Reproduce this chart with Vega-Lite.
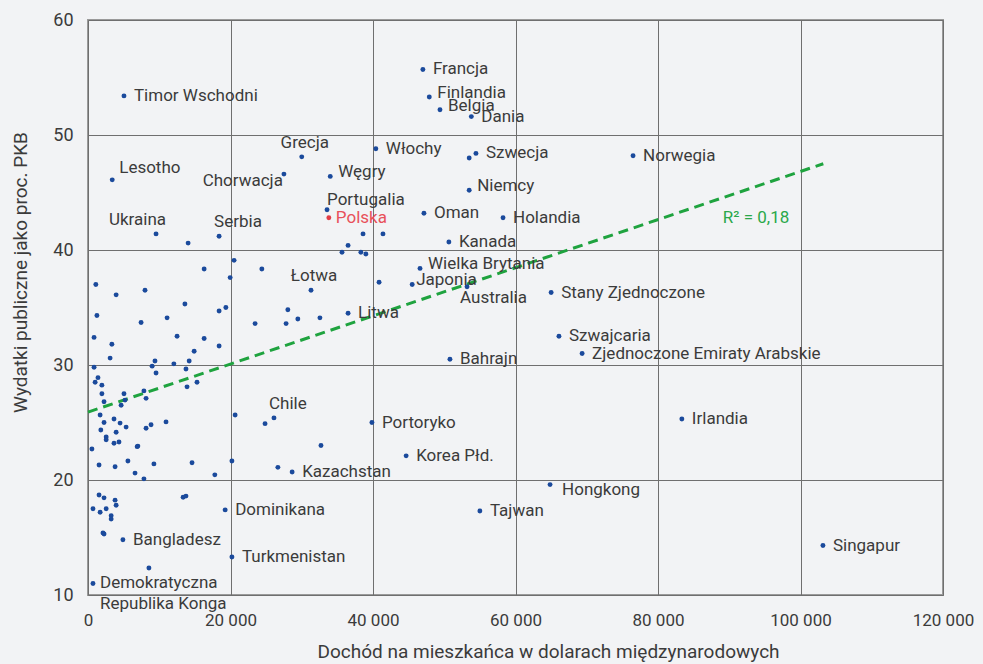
{
  "$schema": "https://vega.github.io/schema/vega-lite/v6.json",
  "width": 855,
  "height": 575,
  "autosize": {"type": "none"},
  "padding": {"left": 88, "top": 20, "right": 40, "bottom": 69},
  "background": "#f2f3f5",
  "config": {
    "locale": {"number": {"decimal": ",", "thousands": " ", "grouping": [3], "currency": ["", ""]}},
    "font": "Roboto",
    "view": {"stroke": "#9a9a9a", "strokeWidth": 2},
    "text": {"lineBreak": "\n"}
  },
  "datasets": {
    "countries": [
      {"name": "Francja", "income": 47000, "spending": 55.7},
      {"name": "Finlandia", "income": 47900, "spending": 53.3},
      {"name": "Belgia", "income": 49400, "spending": 52.2},
      {"name": "Dania", "income": 53800, "spending": 51.6},
      {"name": "Timor Wschodni", "income": 5050, "spending": 53.4},
      {"name": "Lesotho", "income": 3400, "spending": 46.1},
      {"name": "Ukraina", "income": 9550, "spending": 41.4},
      {"name": "Serbia", "income": 18400, "spending": 41.2},
      {"name": "Chorwacja", "income": 27500, "spending": 46.6},
      {"name": "Grecja", "income": 30000, "spending": 48.1},
      {"name": "Węgry", "income": 34000, "spending": 46.4},
      {"name": "Portugalia", "income": 33550, "spending": 43.5},
      {"name": "Polska", "income": 33800, "spending": 42.8},
      {"name": "Włochy", "income": 40400, "spending": 48.8},
      {"name": "Szwecja", "income": 54450, "spending": 48.4},
      {"name": "Niemcy", "income": 53500, "spending": 45.2},
      {"name": "Oman", "income": 47150, "spending": 43.2},
      {"name": "Holandia", "income": 58250, "spending": 42.8},
      {"name": "Kanada", "income": 50650, "spending": 40.7},
      {"name": "Norwegia", "income": 76500, "spending": 48.2},
      {"name": "Wielka Brytania", "income": 46600, "spending": 38.4},
      {"name": "Japonia", "income": 45500, "spending": 37.0},
      {"name": "Australia", "income": 53200, "spending": 36.8},
      {"name": "Litwa", "income": 36500, "spending": 34.5},
      {"name": "Bahrajn", "income": 50800, "spending": 30.5},
      {"name": "Portoryko", "income": 39850, "spending": 25.0},
      {"name": "Korea Płd.", "income": 44650, "spending": 22.1},
      {"name": "Łotwa", "income": 31300, "spending": 36.5},
      {"name": "Stany Zjednoczone", "income": 65000, "spending": 36.3},
      {"name": "Szwajcaria", "income": 66100, "spending": 32.5},
      {"name": "Zjednoczone Emiraty Arabskie", "income": 69350, "spending": 31.0},
      {"name": "Irlandia", "income": 83350, "spending": 25.3},
      {"name": "Hongkong", "income": 64850, "spending": 19.6},
      {"name": "Tajwan", "income": 55000, "spending": 17.3},
      {"name": "Singapur", "income": 103150, "spending": 14.3},
      {"name": "Chile", "income": 26100, "spending": 25.4},
      {"name": "Kazachstan", "income": 28650, "spending": 20.7},
      {"name": "Dominikana", "income": 19250, "spending": 17.4},
      {"name": "Turkmenistan", "income": 20200, "spending": 13.3},
      {"name": "Bangladesz", "income": 4900, "spending": 14.8},
      {"name": "Demokratyczna\nRepublika Konga", "income": 700, "spending": 11.0},
      {"income": 53500, "spending": 48.0},
      {"income": 14050, "spending": 40.6},
      {"income": 20500, "spending": 39.1},
      {"income": 16300, "spending": 38.35},
      {"income": 19950, "spending": 37.6},
      {"income": 1100, "spending": 37.0},
      {"income": 3950, "spending": 36.1},
      {"income": 8000, "spending": 36.5},
      {"income": 13600, "spending": 35.3},
      {"income": 18400, "spending": 34.7},
      {"income": 19350, "spending": 35.0},
      {"income": 1250, "spending": 34.3},
      {"income": 7450, "spending": 33.7},
      {"income": 11100, "spending": 34.1},
      {"income": 850, "spending": 32.4},
      {"income": 3350, "spending": 31.8},
      {"income": 12500, "spending": 32.5},
      {"income": 16300, "spending": 32.3},
      {"income": 18400, "spending": 31.65},
      {"income": 14900, "spending": 31.2},
      {"income": 3100, "spending": 30.6},
      {"income": 850, "spending": 29.8},
      {"income": 9400, "spending": 30.35},
      {"income": 9000, "spending": 29.9},
      {"income": 12050, "spending": 30.1},
      {"income": 14200, "spending": 30.35},
      {"income": 9550, "spending": 29.3},
      {"income": 13750, "spending": 29.65},
      {"income": 13900, "spending": 28.1},
      {"income": 15300, "spending": 28.5},
      {"income": 1400, "spending": 28.9},
      {"income": 1000, "spending": 28.5},
      {"income": 1950, "spending": 28.25},
      {"income": 1950, "spending": 27.5},
      {"income": 2250, "spending": 26.8},
      {"income": 5050, "spending": 27.5},
      {"income": 5200, "spending": 26.95},
      {"income": 4650, "spending": 26.5},
      {"income": 7850, "spending": 27.75},
      {"income": 8150, "spending": 27.1},
      {"income": 20650, "spending": 25.65},
      {"income": 1700, "spending": 25.65},
      {"income": 2250, "spending": 25.0},
      {"income": 3650, "spending": 25.3},
      {"income": 4500, "spending": 24.95},
      {"income": 5350, "spending": 24.6},
      {"income": 8150, "spending": 24.5},
      {"income": 8850, "spending": 24.8},
      {"income": 10950, "spending": 25.05},
      {"income": 1800, "spending": 24.35},
      {"income": 3950, "spending": 24.15},
      {"income": 2550, "spending": 23.75},
      {"income": 2550, "spending": 23.5},
      {"income": 3650, "spending": 23.2},
      {"income": 4350, "spending": 23.3},
      {"income": 6900, "spending": 22.9},
      {"income": 7000, "spending": 22.95},
      {"income": 550, "spending": 22.7},
      {"income": 20200, "spending": 21.65},
      {"income": 1550, "spending": 21.3},
      {"income": 3800, "spending": 21.15},
      {"income": 5600, "spending": 21.65},
      {"income": 9250, "spending": 21.4},
      {"income": 6600, "spending": 20.6},
      {"income": 14600, "spending": 21.5},
      {"income": 17800, "spending": 20.45},
      {"income": 7850, "spending": 20.1},
      {"income": 1550, "spending": 18.7},
      {"income": 2250, "spending": 18.45},
      {"income": 3800, "spending": 18.25},
      {"income": 3950, "spending": 17.8},
      {"income": 700, "spending": 17.5},
      {"income": 1700, "spending": 17.2},
      {"income": 2550, "spending": 17.5},
      {"income": 3250, "spending": 16.9},
      {"income": 3250, "spending": 16.6},
      {"income": 13350, "spending": 18.5},
      {"income": 13750, "spending": 18.6},
      {"income": 2100, "spending": 15.4},
      {"income": 2250, "spending": 15.3},
      {"income": 8550, "spending": 12.35},
      {"income": 24400, "spending": 38.35},
      {"income": 28050, "spending": 34.8},
      {"income": 23450, "spending": 33.6},
      {"income": 27800, "spending": 33.6},
      {"income": 29450, "spending": 34.0},
      {"income": 32550, "spending": 34.1},
      {"income": 38600, "spending": 41.4},
      {"income": 41400, "spending": 41.4},
      {"income": 36500, "spending": 40.4},
      {"income": 35650, "spending": 39.8},
      {"income": 38300, "spending": 39.8},
      {"income": 39000, "spending": 39.65},
      {"income": 40850, "spending": 37.2},
      {"income": 24850, "spending": 24.9},
      {"income": 26650, "spending": 21.1},
      {"income": 32700, "spending": 23.0}
    ],
    "trend": [
      {"income": 0, "spending": 25.9},
      {"income": 103200, "spending": 47.5}
    ],
    "fit": [
      {"income": 89100, "spending": 42.8, "label": "R² = 0,18"}
    ]
  },
  "data": {"name": "countries"},
  "encoding": {
    "x": {
      "field": "income",
      "type": "quantitative",
      "scale": {"domain": [0, 120000], "nice": false, "zero": false},
      "axis": {
        "title": "Dochód na mieszkańca w dolarach międzynarodowych",
        "values": [0, 20000, 40000, 60000, 80000, 100000, 120000],
        "format": ",d",
        "grid": true,
        "gridColor": "#6f6f6f",
        "gridWidth": 1,
        "gridOpacity": 1,
        "domain": false,
        "ticks": false,
        "labelFlush": false,
        "labelPadding": 17,
        "labelFont": "Roboto",
        "labelFontSize": 17,
        "labelColor": "#3b3b3b",
        "titleFont": "Roboto",
        "titleFontSize": 19,
        "titleFontWeight": "normal",
        "titleColor": "#3b3b3b",
        "titleX": 460,
        "titleY": 56,
        "titleAlign": "center",
        "titleBaseline": "middle"
      }
    },
    "y": {
      "field": "spending",
      "type": "quantitative",
      "scale": {"domain": [10, 60], "nice": false, "zero": false},
      "axis": {
        "title": "Wydatki publiczne jako proc. PKB",
        "values": [10, 20, 30, 40, 50, 60],
        "grid": true,
        "gridColor": "#6f6f6f",
        "gridWidth": 1,
        "gridOpacity": 1,
        "domain": false,
        "ticks": false,
        "labelPadding": 15,
        "labelFont": "Roboto",
        "labelFontSize": 18,
        "labelColor": "#3b3b3b",
        "titleFont": "Roboto",
        "titleFontSize": 19,
        "titleFontWeight": "normal",
        "titleColor": "#3b3b3b",
        "titleAngle": -90,
        "titleX": -68,
        "titleY": 252,
        "titleAlign": "center",
        "titleBaseline": "middle"
      }
    }
  },
  "layer": [
    {
      "data": {"name": "trend"},
      "mark": {"type": "line", "stroke": "#1fa33f", "strokeWidth": 3, "strokeDash": [10, 6]},
      "encoding": {
        "x": {"field": "income", "type": "quantitative"},
        "y": {"field": "spending", "type": "quantitative"}
      }
    },
    {
      "mark": {"type": "circle", "size": 24, "opacity": 1},
      "encoding": {
        "color": {
          "condition": {"test": "datum.name === 'Polska'", "value": "#e23b45"},
          "value": "#1b4a9c"
        }
      }
    },
    {
      "transform": [{"filter": "isValid(datum.name) && indexof(['Lesotho','Ukraina','Serbia','Chorwacja','Grecja','Portugalia','Łotwa','Japonia','Australia','Chile','Demokratyczna\\nRepublika Konga','Belgia','Finlandia','Niemcy','Wielka Brytania','Węgry','Hongkong','Polska'], datum.name) < 0"}],
      "mark": {"type": "text", "fontSize": 17, "fill": "#3b3b3b", "align": "left", "baseline": "middle", "dx": 10},
      "encoding": {"text": {"field": "name"}}
    },
    {
      "transform": [{"filter": {"field": "name", "oneOf": ["Belgia", "Finlandia", "Niemcy", "Wielka Brytania", "Węgry"]}}],
      "mark": {"type": "text", "fontSize": 17, "fill": "#3b3b3b", "align": "left", "baseline": "middle", "dx": 8, "dy": -4},
      "encoding": {"text": {"field": "name"}}
    },
    {
      "transform": [{"filter": {"field": "name", "equal": "Japonia"}}],
      "mark": {"type": "text", "fontSize": 17, "fill": "#3b3b3b", "align": "left", "baseline": "middle", "dx": 4, "dy": -5},
      "encoding": {"text": {"field": "name"}}
    },
    {
      "transform": [{"filter": {"field": "name", "equal": "Hongkong"}}],
      "mark": {"type": "text", "fontSize": 17, "fill": "#3b3b3b", "align": "left", "baseline": "middle", "dx": 12, "dy": 5},
      "encoding": {"text": {"field": "name"}}
    },
    {
      "transform": [{"filter": {"field": "name", "equal": "Polska"}}],
      "mark": {"type": "text", "fontSize": 17, "fill": "#e8505a", "align": "left", "baseline": "middle", "dx": 7},
      "encoding": {"text": {"field": "name"}}
    },
    {
      "transform": [{"filter": {"field": "name", "equal": "Lesotho"}}],
      "mark": {"type": "text", "fontSize": 17, "fill": "#3b3b3b", "align": "left", "baseline": "middle", "dx": 7, "dy": -12},
      "encoding": {"text": {"field": "name"}}
    },
    {
      "transform": [{"filter": {"field": "name", "oneOf": ["Serbia", "Chile"]}}],
      "mark": {"type": "text", "fontSize": 17, "fill": "#3b3b3b", "align": "left", "baseline": "middle", "dx": -5, "dy": -14},
      "encoding": {"text": {"field": "name"}}
    },
    {
      "transform": [{"filter": {"field": "name", "equal": "Portugalia"}}],
      "mark": {"type": "text", "fontSize": 17, "fill": "#3b3b3b", "align": "left", "baseline": "middle", "dx": 0, "dy": -10},
      "encoding": {"text": {"field": "name"}}
    },
    {
      "transform": [{"filter": {"field": "name", "oneOf": ["Grecja", "Łotwa"]}}],
      "mark": {"type": "text", "fontSize": 17, "fill": "#3b3b3b", "align": "center", "baseline": "middle", "dx": 3, "dy": -14},
      "encoding": {"text": {"field": "name"}}
    },
    {
      "transform": [{"filter": {"field": "name", "equal": "Ukraina"}}],
      "mark": {"type": "text", "fontSize": 17, "fill": "#3b3b3b", "align": "right", "baseline": "middle", "dx": 10, "dy": -14},
      "encoding": {"text": {"field": "name"}}
    },
    {
      "transform": [{"filter": {"field": "name", "equal": "Chorwacja"}}],
      "mark": {"type": "text", "fontSize": 17, "fill": "#3b3b3b", "align": "right", "baseline": "middle", "dx": -1, "dy": 7},
      "encoding": {"text": {"field": "name"}}
    },
    {
      "transform": [{"filter": {"field": "name", "equal": "Australia"}}],
      "mark": {"type": "text", "fontSize": 17, "fill": "#3b3b3b", "align": "left", "baseline": "middle", "dx": -7, "dy": 11},
      "encoding": {"text": {"field": "name"}}
    },
    {
      "transform": [{"filter": {"field": "name", "equal": "Demokratyczna\nRepublika Konga"}}],
      "mark": {"type": "text", "fontSize": 17, "fill": "#3b3b3b", "align": "left", "baseline": "top", "dx": 7, "dy": -9, "lineHeight": 21},
      "encoding": {"text": {"field": "name"}}
    },
    {
      "data": {"name": "fit"},
      "mark": {"type": "text", "fontSize": 17, "fill": "#2aa84a", "align": "left", "baseline": "middle"},
      "encoding": {
        "x": {"field": "income", "type": "quantitative"},
        "y": {"field": "spending", "type": "quantitative"},
        "text": {"field": "label"}
      }
    }
  ]
}
